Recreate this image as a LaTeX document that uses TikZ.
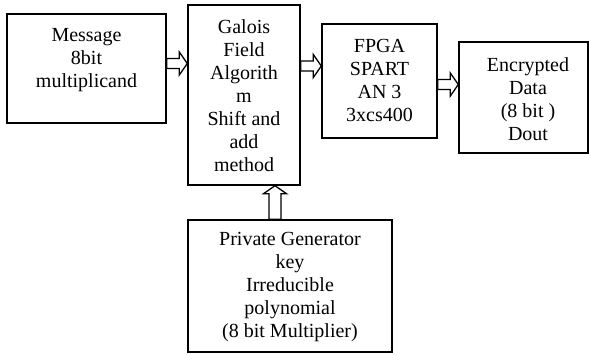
\documentclass[tikz,border=0pt]{standalone}
\usepackage{fontspec}
\setmainfont{Liberation Serif}
\usetikzlibrary{calc}
\tikzset{
  box/.style={draw, line width=1.4pt, inner sep=0pt},
  lbl/.style={align=center, font=\fontsize{20}{23}\selectfont, inner sep=0pt},
  % hollow block arrow, pointing right
  harrow/.style={line width=1.3pt, line join=miter, to path={
    let \p1=(\tikztostart), \p2=(\tikztotarget) in
    (\x1,\y1+5pt) -- (\x2-8pt,\y1+5pt) -- (\x2-8pt,\y1+11.5pt) -- (\x2,\y1)
    -- (\x2-8pt,\y1-11.5pt) -- (\x2-8pt,\y1-5pt) -- (\x1,\y1-5pt) -- cycle}},
  % hollow block arrow, pointing up
  varrow/.style={line width=1.3pt, line join=miter, to path={
    let \p1=(\tikztostart), \p2=(\tikztotarget) in
    (\x1+6pt,\y1) -- (\x1+6pt,\y2-8pt) -- (\x1+11.5pt,\y2-8pt) -- (\x1,\y2)
    -- (\x1-11.5pt,\y2-8pt) -- (\x1-6pt,\y2-8pt) -- (\x1-6pt,\y1) -- cycle}}
}
\begin{document}
\begin{tikzpicture}[x=1pt, y=-1pt]
\useasboundingbox (0,0) rectangle (589,354);

% blocks
\node[box, minimum width=159pt, minimum height=109pt] (msg)  at (86.5,68.5) {};
\node[box, minimum width=112pt, minimum height=180pt] (gal)  at (244,95) {};
\node[box, minimum width=115pt, minimum height=114pt] (fpga) at (379.5,81) {};
\node[box, minimum width=129pt, minimum height=111pt] (enc)  at (523.5,97.5) {};
\node[box, minimum width=204pt, minimum height=132pt] (priv) at (290,286) {};

% block texts
\node[lbl] (msgt)  at (86.5,60) {Message\\8bit\\multiplicand};
\node[lbl] (galt)  at (244,96) {Galois\\Field\\Algorith\\m\\Shift and\\add\\method};
\node[lbl] (fpgat) at (379.5,80) {FPGA\\SPART\\AN 3\\3xcs400};
\node[lbl] (enct)  at (528,99) {Encrypted\\Data\\(8 bit )\\Dout};
\node[lbl] (privt) at (290,287) {Private Generator\\key\\Irreducible\\polynomial\\(8 bit Multiplier)};

% connectors
\draw[harrow] ([yshift=5pt]msg.east) to (gal.west);
\draw[harrow] ([yshift=29pt]gal.east) to (fpga.west);
\draw[harrow] ([yshift=-3.5pt]fpga.east) to (enc.west);
\draw[varrow] ([xshift=-15pt]priv.north) to (gal.south);
\end{tikzpicture}
\end{document}
